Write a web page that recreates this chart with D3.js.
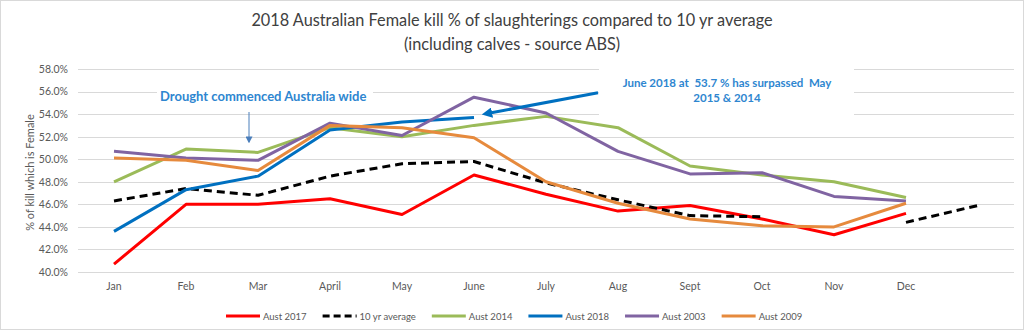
<!DOCTYPE html>
<html>
<head>
<meta charset="utf-8">
<script src="https://cdn.jsdelivr.net/npm/d3@7"></script>
<style>
  body { margin: 0; background: #fff; }
  text { font-family: Lato, "Liberation Sans", sans-serif; }
</style>
</head>
<body>
<svg id="chart" width="1024" height="330"></svg>
<script>
// categories (13th slot is unlabeled, used by the 10 yr average tail)
const months = ["Jan", "Feb", "Mar", "April", "May", "June", "July", "Aug", "Sept", "Oct", "Nov", "Dec", ""];
const yTicks = [40, 42, 44, 46, 48, 50, 52, 54, 56, 58];

// series values, % of kill which is female
const aust2017 = [40.7, 46.0, 46.0, 46.5, 45.1, 48.6, 46.9, 45.4, 45.9, 44.7, 43.3, 45.2, null];
const tenYrAvg = [46.3, 47.4, 46.8, 48.5, 49.6, 49.8, 47.9, 46.4, 45.0, 44.9, null, 44.4, 45.9];
const aust2014 = [48.0, 50.9, 50.6, 52.8, 52.0, 53.0, 53.8, 52.8, 49.4, 48.6, 48.0, 46.6, null];
const aust2018 = [43.6, 47.3, 48.5, 52.6, 53.3, 53.7, null, null, null, null, null, null, null];
const aust2003 = [50.7, 50.1, 49.9, 53.2, 52.1, 55.5, 54.1, 50.7, 48.7, 48.8, 46.7, 46.3, null];
const aust2009 = [50.1, 49.9, 49.0, 53.0, 52.8, 51.9, 48.0, 46.1, 44.7, 44.1, 44.0, 46.1, null];

const series = [
  { name: "Aust 2017", values: aust2017, color: "#ff0000", dash: null },
  { name: "10 yr average", values: tenYrAvg, color: "#000000", dash: "8,5" },
  { name: "Aust 2014", values: aust2014, color: "#9bbb59", dash: null },
  { name: "Aust 2018", values: aust2018, color: "#0070c0", dash: null },
  { name: "Aust 2003", values: aust2003, color: "#8064a2", dash: null },
  { name: "Aust 2009", values: aust2009, color: "#e68a3d", dash: null }
];

const W = 1024, H = 330;
const plot = { left: 78, right: 1014, top: 69, bottom: 272 };

const svg = d3.select("#chart");

// outer frame
svg.append("rect")
  .attr("x", 0.5).attr("y", 0.5)
  .attr("width", W - 1).attr("height", H - 1)
  .attr("fill", "#fff").attr("stroke", "#d9d9d9");

const x = d3.scaleBand()
  .domain(months.map((m, i) => i))
  .range([plot.left, plot.right])
  .paddingInner(0).paddingOuter(0);
const xc = (i) => x(i) + x.bandwidth() / 2;

const y = d3.scaleLinear().domain([40, 58]).range([plot.bottom, plot.top]);

// title
svg.append("text")
  .attr("x", W / 2).attr("y", 26)
  .attr("text-anchor", "middle")
  .attr("font-size", 16.3).attr("fill", "#404040")
  .text("2018 Australian Female kill % of slaughterings compared to 10 yr average");
svg.append("text")
  .attr("x", W / 2).attr("y", 50)
  .attr("text-anchor", "middle")
  .attr("font-size", 16.3).attr("fill", "#404040")
  .text("(including calves - source ABS)");

// gridlines
svg.append("g")
  .selectAll("line")
  .data(yTicks)
  .join("line")
  .attr("x1", plot.left).attr("x2", plot.right)
  .attr("y1", (d) => Math.round(y(d)) + 0.5)
  .attr("y2", (d) => Math.round(y(d)) + 0.5)
  .attr("stroke", "#d9d9d9").attr("stroke-width", 1);

// y axis labels
const yAxis = d3.axisLeft(y).tickValues(yTicks).tickSize(0).tickPadding(10)
  .tickFormat((d) => d.toFixed(1) + "%");
svg.append("g")
  .attr("transform", `translate(${plot.left}, 0)`)
  .call(yAxis)
  .call((g) => g.select(".domain").remove())
  .selectAll("text")
  .attr("font-size", 10.5).attr("fill", "#595959")
  .style("font-family", "Lato, sans-serif");

// x axis labels
const xAxis = d3.axisBottom(x).tickSize(0).tickPadding(11)
  .tickFormat((i) => months[i]);
svg.append("g")
  .attr("transform", `translate(0, ${plot.bottom})`)
  .call(xAxis)
  .call((g) => g.select(".domain").remove())
  .selectAll("text")
  .attr("font-size", 10.5).attr("fill", "#595959")
  .style("font-family", "Lato, sans-serif");

// y axis title
svg.append("text")
  .attr("transform", `translate(34, ${(plot.top + plot.bottom) / 2 + 2}) rotate(-90)`)
  .attr("text-anchor", "middle")
  .attr("font-size", 11).attr("fill", "#595959")
  .text("% of kill which is Female");

// white boxes behind annotations (they hide the gridlines)
svg.append("rect")
  .attr("x", 157).attr("y", 84).attr("width", 216).attr("height", 20)
  .attr("fill", "#fff");
svg.append("rect")
  .attr("x", 599).attr("y", 62).attr("width", 255).attr("height", 58)
  .attr("fill", "#fff");

// series lines
const line = d3.line()
  .defined((d) => d != null)
  .x((d, i) => xc(i))
  .y((d) => y(d));

svg.append("g")
  .selectAll("path")
  .data(series)
  .join("path")
  .attr("d", (s) => line(s.values))
  .attr("fill", "none")
  .attr("stroke", (s) => s.color)
  .attr("stroke-width", 3)
  .attr("stroke-dasharray", (s) => s.dash)
  .attr("stroke-linejoin", "round");

// arrow markers
const defs = svg.append("defs");
defs.append("marker")
  .attr("id", "headBig")
  .attr("viewBox", "0 0 10 10").attr("refX", 2).attr("refY", 5)
  .attr("markerWidth", 3.5).attr("markerHeight", 3.5)
  .attr("orient", "auto-start-reverse")
  .append("path").attr("d", "M0,0L10,5L0,10z").attr("fill", "#0070c0");
defs.append("marker")
  .attr("id", "headSmall")
  .attr("viewBox", "0 0 10 10").attr("refX", 8).attr("refY", 5)
  .attr("markerWidth", 7).attr("markerHeight", 7)
  .attr("markerUnits", "userSpaceOnUse")
  .attr("orient", "auto")
  .append("path").attr("d", "M0,0L10,5L0,10z").attr("fill", "#4a7ebb");

// drought annotation
svg.append("text")
  .attr("x", 160).attr("y", 101)
  .attr("font-size", 13).attr("font-weight", "bold").attr("fill", "#2e86d0")
  .text("Drought commenced Australia wide");
svg.append("line")
  .attr("x1", xc(2) - 9).attr("y1", 112)
  .attr("x2", xc(2) - 9).attr("y2", 142)
  .attr("stroke", "#4a7ebb").attr("stroke-width", 1)
  .attr("marker-end", "url(#headSmall)");

// June 2018 annotation
svg.append("line")
  .attr("x1", xc(5) + 16).attr("y1", y(54.1))
  .attr("x2", xc(6) + 52).attr("y2", y(55.9))
  .attr("stroke", "#0070c0").attr("stroke-width", 3)
  .attr("marker-start", "url(#headBig)");
svg.append("text")
  .attr("x", 727).attr("y", 87)
  .attr("text-anchor", "middle")
  .attr("font-size", 11.5).attr("font-weight", "bold").attr("fill", "#2e86d0")
  .attr("xml:space", "preserve")
  .text("June 2018 at  53.7 % has surpassed  May");
svg.append("text")
  .attr("x", 727).attr("y", 102)
  .attr("text-anchor", "middle")
  .attr("font-size", 11.5).attr("font-weight", "bold").attr("fill", "#2e86d0")
  .text("2015 & 2014");

// legend
const legend = svg.append("g");
let lx = 0;
series.forEach((s) => {
  const g = legend.append("g").attr("transform", `translate(${lx}, 0)`);
  g.append("line")
    .attr("x1", 0).attr("x2", 34).attr("y1", 0).attr("y2", 0)
    .attr("stroke", s.color).attr("stroke-width", 3)
    .attr("stroke-dasharray", s.dash ? "7,4" : null);
  const t = g.append("text")
    .attr("x", 37).attr("y", 3.5)
    .attr("font-size", 9.5).attr("fill", "#595959")
    .text(s.name);
  lx += 37 + t.node().getComputedTextLength() + 16;
});
lx -= 16;
legend.attr("transform", `translate(${Math.round(514 - lx / 2)}, 316)`);
</script>
</body>
</html>
